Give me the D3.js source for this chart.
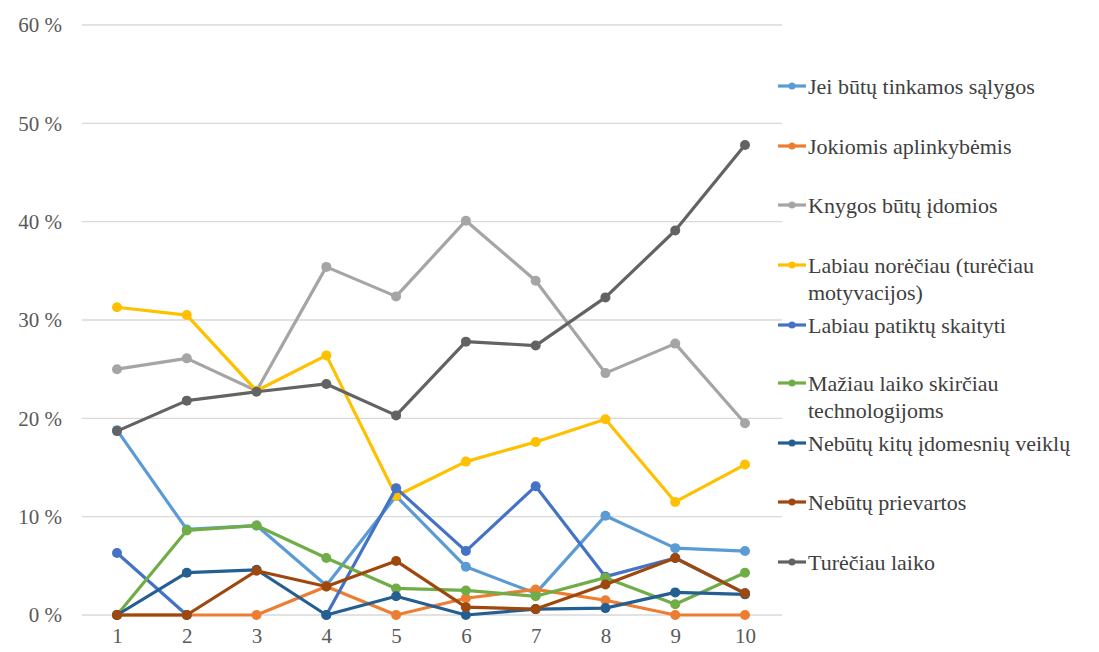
<!DOCTYPE html>
<html><head><meta charset="utf-8">
<script src="https://cdn.jsdelivr.net/npm/d3@7"></script>
<style>body{margin:0;background:#fff;}svg{display:block;} svg text{font-family:"Liberation Serif",serif !important;}</style>
</head><body>
<svg id="c" width="1099" height="652" font-family="Liberation Serif, serif"></svg>
<script>
const categories = [1,2,3,4,5,6,7,8,9,10];
const yTicks = [0,10,20,30,40,50,60];
const seriesNames = [
  "Jei būtų tinkamos sąlygos",
  "Jokiomis aplinkybėmis",
  "Knygos būtų įdomios",
  "Labiau norėčiau (turėčiau motyvacijos)",
  "Labiau patiktų skaityti",
  "Mažiau laiko skirčiau technologijoms",
  "Nebūtų kitų įdomesnių veiklų",
  "Nebūtų prievartos",
  "Turėčiau laiko"
];
const legendLines = [
  ["Jei būtų tinkamos sąlygos"],
  ["Jokiomis aplinkybėmis"],
  ["Knygos būtų įdomios"],
  ["Labiau norėčiau (turėčiau","motyvacijos)"],
  ["Labiau patiktų skaityti"],
  ["Mažiau laiko skirčiau","technologijoms"],
  ["Nebūtų kitų įdomesnių veiklų"],
  ["Nebūtų prievartos"],
  ["Turėčiau laiko"]
];
const colors = ["#5B9BD5","#ED7D31","#A5A5A5","#FFC000","#4472C4","#70AD47","#255E91","#9E480E","#636363"];
const sJei = [18.8, 8.7, 9.1, 3.0, 12.1, 4.9, 2.2, 10.1, 6.8, 6.5];
const sJokiomis = [0, 0, 0, 2.9, 0, 1.7, 2.6, 1.5, 0, 0];
const sKnygos = [25.0, 26.1, 22.8, 35.4, 32.4, 40.1, 34.0, 24.6, 27.6, 19.5];
const sNoreciau = [31.3, 30.5, 22.8, 26.4, 12.1, 15.6, 17.6, 19.9, 11.5, 15.3];
const sPatiktu = [6.3, 0, null, 0, 12.9, 6.5, 13.1, 3.9, 5.8, 2.2];
const sMaziau = [0, 8.6, 9.1, 5.8, 2.7, 2.5, 1.9, 3.8, 1.1, 4.3];
const sVeiklu = [0, 4.3, 4.6, 0, 1.9, 0, 0.6, 0.7, 2.3, 2.1];
const sPrievartos = [0, 0, 4.5, 2.9, 5.5, 0.8, 0.6, 3.1, 5.8, 2.2];
const sLaiko = [18.7, 21.8, 22.7, 23.5, 20.3, 27.8, 27.4, 32.3, 39.1, 47.8];
const allSeries = [sJei, sJokiomis, sKnygos, sNoreciau, sPatiktu, sMaziau, sVeiklu, sPrievartos, sLaiko];

const serif = "Liberation Serif, serif";
const svg = d3.select("#c");
const x = d3.scalePoint().domain(categories).range([117, 745]);
const y = d3.scaleLinear().domain([0, 60]).range([615, 25]);

// gridlines
svg.append("g").selectAll("line").data(yTicks).join("line")
  .attr("x1", 82).attr("x2", 782)
  .attr("y1", d => y(d)).attr("y2", d => y(d))
  .attr("stroke", "#d9d9d9").attr("stroke-width", 1.3);

// y axis labels
const yAxis = d3.axisLeft(y).tickValues(yTicks).tickFormat(d => d + " %").tickSize(0).tickPadding(0);
const gy = svg.append("g").attr("transform", "translate(62,0)").call(yAxis);
gy.select(".domain").remove();
gy.attr("font-family", serif).attr("font-size", 21);
gy.selectAll("text").attr("fill", "#595959").style("font-family", serif);

// x axis labels
const xAxis = d3.axisBottom(x).tickSize(0).tickPadding(0);
const gx = svg.append("g").attr("transform", "translate(0,628)").call(xAxis);
gx.select(".domain").remove();
gx.attr("font-family", serif).attr("font-size", 21);
gx.selectAll("text").attr("fill", "#595959").style("font-family", serif);

// lines
const line = d3.line().defined(d => d !== null).x((d, i) => x(categories[i])).y(d => y(d));
allSeries.forEach((s, k) => {
  const g = svg.append("g");
  g.append("path").datum(s).attr("d", line).attr("fill", "none")
    .attr("stroke", colors[k]).attr("stroke-width", 3.2).attr("stroke-linejoin", "round");
  g.selectAll("circle").data(s.map((v, i) => ({v, i})).filter(d => d.v !== null)).join("circle")
    .attr("cx", d => x(categories[d.i])).attr("cy", d => y(d.v)).attr("r", 5)
    .attr("fill", colors[k]);
});

// legend
const legendY = [86, 146, 205, 265, 325, 383, 443, 502, 562];
legendLines.forEach((lines, k) => {
  const g = svg.append("g").attr("transform", `translate(0,${legendY[k]})`);
  g.append("line").attr("x1", 778).attr("x2", 806).attr("y1", 0).attr("y2", 0)
    .attr("stroke", colors[k]).attr("stroke-width", 3.2);
  g.append("circle").attr("cx", 792).attr("cy", 0).attr("r", 3.5).attr("fill", colors[k]);
  lines.forEach((t, j) => {
    g.append("text").attr("x", 808).attr("y", j * 27).attr("dy", "0.35em")
      .attr("font-size", 22).attr("fill", "#404040").style("font-family", serif).text(t);
  });
});
</script>
</body></html>
